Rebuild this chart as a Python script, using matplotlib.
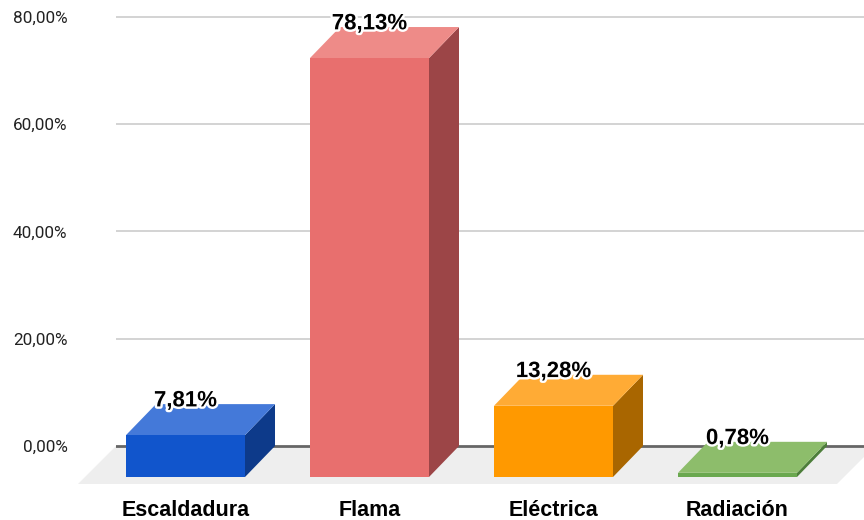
import matplotlib.pyplot as plt
from matplotlib.patches import Polygon
import matplotlib.patheffects as pe

plt.rcParams['font.family'] = ['Liberation Sans', 'DejaVu Sans']

# Porcentaje de quemaduras por tipo
categorias = ['Escaldadura', 'Flama', 'Eléctrica', 'Radiación']
valores = [7.81, 78.13, 13.28, 0.78]
etiquetas = ['7,81%', '78,13%', '13,28%', '0,78%']
yticks = [0, 20, 40, 60, 80]
ytick_labels = ['0,00%', '20,00%', '40,00%', '60,00%', '80,00%']

# colores: frente, tapa, lateral
colores = [
    ('#1155cc', '#4479d9', '#0d3a8a'),
    ('#e86f6e', '#ee8b88', '#9c4547'),
    ('#ff9900', '#ffab35', '#a96600'),
    ('#6aa84f', '#8dbd6b', '#4d7e3a'),
]

fig = plt.figure(figsize=(8.64, 5.2), dpi=100)
ax = fig.add_axes([116 / 864, 31 / 520, 748 / 864, 489 / 520])
ax.set_xlim(-0.5408, 3.5245)
ax.set_ylim(-8.02, 83.17)
for s in ax.spines.values():
    s.set_visible(False)

# desplazamiento de la profundidad 3D (en unidades de datos)
px_x = 1 / 184
px_y = 1 / 5.3625
dx, dy = 30 * px_x, 31 * px_y
ancho = 119 * px_x
fdx, fdy = 38 * px_x, 38 * px_y

# piso
x0, x1 = ax.get_xlim()
xr = x1 + 11 * px_x
piso = Polygon([(x0, 0), (xr, 0), (xr - fdx, -fdy), (x0 - fdx, -fdy)],
               closed=True, facecolor='#eeeeee', edgecolor='none', zorder=0, clip_on=False)
ax.add_patch(piso)

# lineas de la cuadricula
for t in yticks:
    if t == 0:
        ax.axhline(t, color='#666666', lw=2, zorder=1)
    else:
        ax.axhline(t, color='#cccccc', lw=1.2, zorder=1)

for i, (v, (cf, ct, cl)) in enumerate(zip(valores, colores)):
    xb = i - ancho / 2
    xf = xb - dx
    lateral = Polygon([(xf + ancho, -dy), (xb + ancho, 0), (xb + ancho, v), (xf + ancho, v - dy)],
                      closed=True, facecolor=cl, edgecolor='none', zorder=3)
    tapa = Polygon([(xf, v - dy), (xb, v), (xb + ancho, v), (xf + ancho, v - dy)],
                   closed=True, facecolor=ct, edgecolor='none', zorder=3)
    frente = Polygon([(xf, -dy), (xf + ancho, -dy), (xf + ancho, v - dy), (xf, v - dy)],
                     closed=True, facecolor=cf, edgecolor='none', zorder=4)
    ax.add_patch(lateral)
    ax.add_patch(tapa)
    ax.add_patch(frente)
    ax.text(i - dx, v + 0.6, etiquetas[i], ha='center', va='center', fontsize=16,
            fontweight='bold', color='black', zorder=6,
            path_effects=[pe.withStroke(linewidth=3.5, foreground='white')])

ax.set_yticks(yticks)
ax.set_yticklabels(ytick_labels, fontsize=12.3, color='#222222', family='Roboto')
ax.tick_params(axis='y', length=0, pad=35)
ax.set_xticks([i - dx for i in range(len(categorias))])
ax.set_xticklabels(categorias, fontsize=15.5, fontweight='bold', color='black')
ax.tick_params(axis='x', length=0, pad=8)

fig.savefig('out.png', dpi=100)
